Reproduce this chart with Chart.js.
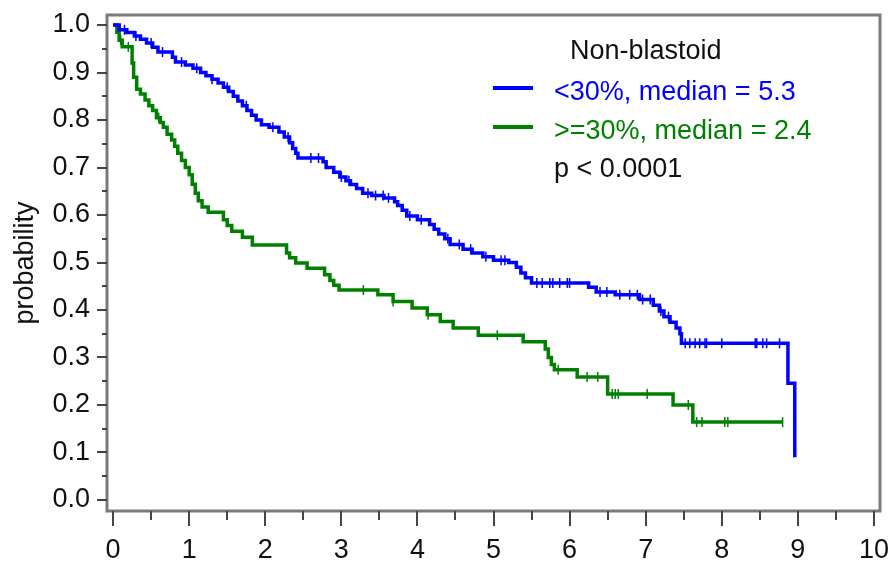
<!DOCTYPE html>
<html>
<head>
<meta charset="utf-8">
<script src="https://cdn.jsdelivr.net/npm/chart.js@4.4.1/dist/chart.umd.min.js"></script>
<style>
  html, body { margin: 0; padding: 0; background: #fff; }
  #wrap { width: 893px; height: 562px; }
</style>
</head>
<body>
<div id="wrap"><canvas id="kmChart" width="893" height="562"></canvas></div>
<script>
// axis ticks
const xTicks = [0, 1, 2, 3, 4, 5, 6, 7, 8, 9, 10];
const yTicks = [0, 0.1, 0.2, 0.3, 0.4, 0.5, 0.6, 0.7, 0.8, 0.9, 1.0];

// <30% group: event times (years) and survival after each step
const lowTimes = [0, 0.08, 0.18, 0.28, 0.36, 0.44, 0.52, 0.59, 0.78, 0.82, 0.95, 1.05, 1.15, 1.22, 1.3, 1.38,
  1.45, 1.52, 1.58, 1.64, 1.7, 1.76, 1.82, 1.88, 1.95, 2.05, 2.18, 2.25, 2.32, 2.36, 2.4, 2.43, 2.76, 2.8,
  2.9, 2.98, 3.06, 3.12, 3.2, 3.28, 3.4, 3.56, 3.7, 3.74, 3.8, 3.86, 4.0, 4.16, 4.22, 4.28, 4.36, 4.43,
  4.6, 4.72, 4.86, 5.0, 5.2, 5.3, 5.36, 5.42, 5.5, 6.25, 6.35, 6.6, 6.92, 7.1, 7.18, 7.24, 7.32, 7.4,
  7.45, 7.47, 8.87, 8.96];
const lowSurv = [1.0, 0.99, 0.984, 0.977, 0.97, 0.962, 0.953, 0.943, 0.932, 0.922, 0.916, 0.909, 0.9, 0.893, 0.886, 0.878,
  0.869, 0.86, 0.85, 0.84, 0.83, 0.82, 0.81, 0.8, 0.79, 0.785, 0.775, 0.764, 0.752, 0.74, 0.73, 0.72, 0.712, 0.7,
  0.69, 0.68, 0.672, 0.664, 0.656, 0.646, 0.641, 0.636, 0.628, 0.62, 0.61, 0.598, 0.59, 0.58, 0.57, 0.56, 0.55, 0.538,
  0.528, 0.52, 0.512, 0.505, 0.5, 0.49, 0.478, 0.468, 0.457, 0.448, 0.438, 0.432, 0.422, 0.41, 0.398, 0.386, 0.374, 0.362,
  0.35, 0.33, 0.246, 0.09];
const lowCensor = [0.15, 0.3, 0.5, 0.65, 0.9, 1.1, 1.3, 1.5, 1.75, 2.1, 2.3, 2.6, 2.7, 3.0, 3.1, 3.35, 3.45, 3.55,
  3.62, 3.9, 4.05, 4.4, 4.55, 4.7, 4.9, 5.1, 5.15, 5.57, 5.64, 5.74, 5.78, 5.87, 5.97, 6.0, 6.4, 6.49, 6.66,
  6.79, 6.89, 6.96, 7.06, 7.2, 7.3, 7.52, 7.58, 7.65, 7.71, 7.78, 7.8, 8.0, 8.44, 8.46, 8.54, 8.59, 8.76];

// >=30% group
const highTimes = [0, 0.05, 0.08, 0.12, 0.25, 0.27, 0.31, 0.36, 0.42, 0.47, 0.52, 0.57, 0.62, 0.66, 0.71, 0.77,
  0.81, 0.85, 0.9, 0.95, 1.0, 1.04, 1.08, 1.12, 1.17, 1.25, 1.45, 1.5, 1.56, 1.7, 1.83, 2.28, 2.32, 2.4,
  2.55, 2.78, 2.85, 2.9, 2.97, 3.48, 3.68, 3.93, 4.13, 4.3, 4.47, 4.8, 5.39, 5.68, 5.72, 5.76, 5.8, 6.1,
  6.5, 7.36, 7.62, 8.8];
const highSurv = [1.0, 0.985, 0.968, 0.954, 0.92, 0.89, 0.865, 0.855, 0.842, 0.83, 0.82, 0.805, 0.795, 0.785, 0.77, 0.758,
  0.745, 0.73, 0.715, 0.7, 0.685, 0.665, 0.646, 0.63, 0.617, 0.606, 0.59, 0.578, 0.566, 0.553, 0.537, 0.52, 0.51, 0.499,
  0.488, 0.474, 0.462, 0.452, 0.442, 0.432, 0.418, 0.404, 0.39, 0.376, 0.362, 0.347, 0.333, 0.318, 0.3, 0.285, 0.274, 0.259,
  0.223, 0.2, 0.164, 0.164];
const highCensor = [0.1, 0.2, 0.6, 3.29, 3.68, 4.14, 5.05, 5.85, 6.23, 6.37, 6.56, 6.6, 6.64, 7.02, 7.56, 7.67,
  7.74, 8.04, 8.08, 8.8];

const seriesLabels = ['<30%, median = 5.3', '>=30%, median = 2.4'];
const seriesColors = ['#0000ff', '#008000'];
const legendTitle = 'Non-blastoid';
const pValueText = 'p < 0.0001';
const yTitle = 'probability';

const FONT = '"Liberation Sans", Arial, sans-serif';

function toPoints(times, surv) {
  return times.map((t, i) => ({ x: t, y: surv[i] }));
}

// censored patients sit on the curve at their time
function survAt(times, surv, t) {
  let s = surv[0];
  for (let i = 0; i < times.length; i++) {
    if (times[i] <= t) s = surv[i];
  }
  return s;
}

function censorPoints(cens, times, surv) {
  return cens.map(t => ({ x: t, y: survAt(times, surv, t) }));
}

const framePlugin = {
  id: 'frame',
  afterDraw(chart) {
    const { ctx, chartArea: a, scales: { x, y } } = chart;
    ctx.save();
    ctx.strokeStyle = '#7a7a7a';
    ctx.lineWidth = 3;
    ctx.strokeRect(a.left, a.top, a.right - a.left, a.bottom - a.top);

    ctx.strokeStyle = '#444';
    ctx.lineWidth = 2;
    ctx.beginPath();
    xTicks.forEach((v, i) => {
      const px = Math.round(x.getPixelForValue(v));
      ctx.moveTo(px, a.bottom);
      ctx.lineTo(px, a.bottom + 15);
      if (i < xTicks.length - 1) {
        const mx = Math.round(x.getPixelForValue((v + xTicks[i + 1]) / 2));
        ctx.moveTo(mx, a.bottom);
        ctx.lineTo(mx, a.bottom + 9);
      }
    });
    yTicks.forEach((v, i) => {
      const py = Math.round(y.getPixelForValue(v));
      ctx.moveTo(a.left, py);
      ctx.lineTo(a.left - 10, py);
      if (i < yTicks.length - 1) {
        const my = Math.round(y.getPixelForValue((v + yTicks[i + 1]) / 2));
        ctx.moveTo(a.left, my);
        ctx.lineTo(a.left - 5, my);
      }
    });
    ctx.stroke();
    ctx.restore();
  }
};

const legendPlugin = {
  id: 'kmLegend',
  afterDraw(chart) {
    const ctx = chart.ctx;
    ctx.save();
    ctx.font = '27px ' + FONT;
    ctx.textBaseline = 'alphabetic';
    ctx.textAlign = 'left';
    ctx.fillStyle = '#111';
    ctx.fillText(legendTitle, 570, 59);

    const rows = [100, 139];
    seriesLabels.forEach((lab, i) => {
      ctx.strokeStyle = seriesColors[i];
      ctx.lineWidth = 4;
      ctx.beginPath();
      ctx.moveTo(493, rows[i] - 12);
      ctx.lineTo(533, rows[i] - 12);
      ctx.stroke();
      ctx.fillStyle = seriesColors[i];
      ctx.fillText(lab, 554, rows[i]);
    });
    ctx.fillStyle = '#111';
    ctx.fillText(pValueText, 554, 177);
    ctx.restore();
  }
};

function initKmChart() {
  const ctx = document.getElementById('kmChart').getContext('2d');
  new Chart(ctx, {
    type: 'line',
    data: {
      datasets: [
        {
          label: seriesLabels[0],
          data: toPoints(lowTimes, lowSurv),
          borderColor: seriesColors[0],
          borderWidth: 3.5,
          stepped: true,
          pointRadius: 0,
          fill: false
        },
        {
          label: seriesLabels[1],
          data: toPoints(highTimes, highSurv),
          borderColor: seriesColors[1],
          borderWidth: 3.5,
          stepped: true,
          pointRadius: 0,
          fill: false
        },
        {
          type: 'scatter',
          label: 'censored <30%',
          data: censorPoints(lowCensor, lowTimes, lowSurv),
          borderColor: seriesColors[0],
          pointStyle: 'line',
          rotation: 90,
          pointRadius: 5,
          borderWidth: 1.5
        },
        {
          type: 'scatter',
          label: 'censored >=30%',
          data: censorPoints(highCensor, highTimes, highSurv),
          borderColor: seriesColors[1],
          pointStyle: 'line',
          rotation: 90,
          pointRadius: 5,
          borderWidth: 1.5
        }
      ]
    },
    options: {
      responsive: false,
      animation: false,
      layout: {
        padding: { left: 0, top: 15, right: 13, bottom: 0 }
      },
      plugins: {
        legend: { display: false },
        tooltip: { enabled: false }
      },
      scales: {
        x: {
          type: 'linear',
          min: -0.08,
          max: 10.08,
          afterBuildTicks: scale => { scale.ticks = xTicks.map(v => ({ value: v })); },
          afterFit: scale => {
            scale.height = 51;
            scale.paddingLeft = 0;
            scale.paddingRight = 0;
          },
          grid: { display: false, drawTicks: false },
          border: { display: false },
          ticks: {
            color: '#111',
            font: { family: FONT, size: 27 },
            padding: 23,
            maxRotation: 0,
            callback: v => String(v)
          }
        },
        y: {
          type: 'linear',
          min: -0.0232,
          max: 1.0211,
          afterBuildTicks: scale => { scale.ticks = yTicks.map(v => ({ value: v })); },
          afterFit: scale => {
            scale.width = 107;
            scale.paddingTop = 0;
            scale.paddingBottom = 0;
          },
          grid: { display: false, drawTicks: false },
          border: { display: false },
          title: {
            display: true,
            text: yTitle,
            color: '#111',
            font: { family: FONT, size: 27, lineHeight: 1 },
            padding: { top: 12, bottom: 0 }
          },
          ticks: {
            color: '#111',
            font: { family: FONT, size: 27 },
            padding: 17,
            callback: v => v.toFixed(1)
          }
        }
      }
    },
    plugins: [framePlugin, legendPlugin]
  });
}

document.addEventListener('DOMContentLoaded', function() {
  initKmChart();
});
</script>
</body>
</html>
